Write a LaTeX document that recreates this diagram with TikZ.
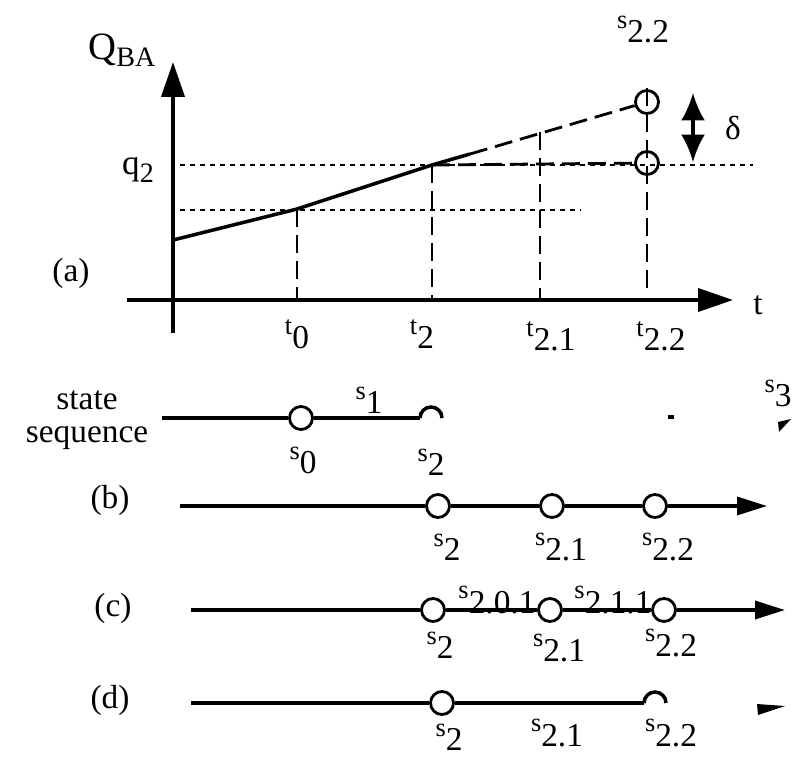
\documentclass[tikz,border=0pt]{standalone}
\usepackage{fontspec}
\setmainfont{Liberation Serif}
\usetikzlibrary{arrows.meta, positioning, calc}

% letter with a large, lowered index
\newcommand{\lbl}[2]{{\fontsize{15}{15}\selectfont #1}\raisebox{-8pt}{#2}}

\tikzset{
  axisline/.style={line width=2.2pt, -{Triangle[length=0.7cm,width=0.46cm]}},
  seqline/.style={line width=2pt},
  seqarrow/.style={line width=2pt, -{Triangle[length=0.6cm,width=0.36cm]}},
  dashline/.style={line width=1.6pt, dash pattern=on 0.36cm off 0.16cm},
  dotline/.style={line width=1.3pt, dash pattern=on 0.1cm off 0.1cm},
  statering/.style={circle, draw, line width=1.6pt, fill=white, inner sep=0pt, minimum size=0.46cm},
  openring/.style={circle, draw, line width=1.6pt, inner sep=0pt, minimum size=0.46cm},
  lab/.style={font=\fontsize{19}{19}\selectfont, inner sep=0pt},
}

\begin{document}
\begin{tikzpicture}[x=0.02cm, y=-0.02cm]
\useasboundingbox (0,0) rectangle (808,757);

% (a) Q_BA over time
\coordinate (yBot) at (173,333);
\coordinate (yTip) at (173,62);
\coordinate (xBeg) at (127,300);
\coordinate (xTip) at (733,300);
\draw[axisline] (yBot) -- (yTip);
\draw[axisline] (xBeg) -- (xTip);

\node[lab] (qba) at (122,50) {{\fontsize{22}{22}\selectfont Q}\raisebox{-4pt}{\fontsize{16}{16}\selectfont BA}};
\node[lab] (q2) at (138,170) {{\fontsize{20}{20}\selectfont q}\raisebox{-5pt}{\fontsize{16}{16}\selectfont 2}};
\node[lab] (la) at (71,273) {(a)};

\coordinate (p0) at (173,240);
\coordinate (pt0) at (297,209);
\coordinate (pt2) at (432,165);
\coordinate (pSolid) at (470,154);
\coordinate (pt21) at (540,132);
\coordinate (q2End) at (753,165);
\coordinate (q0End) at (580,210);
\coordinate (q0Beg) at (180,210);
\coordinate (q2Beg) at (180,165);
\node[openring] (ringUp) at (647,102) {};
\node[openring] (ringLo) at (647,163) {};

% levels
\draw[dotline] (q2Beg) -- (q2End);
\draw[dotline] (q0Beg) -- (q0End);

% rising line, then its extrapolation
\draw[line width=2pt] (p0) -- (pt0) -- (pt2) -- (pSolid);
\draw[dashline] (pSolid) -- (ringUp);
\draw[dashline] (pt2) -- (ringLo);

% time marks
\draw[dashline] (pt0) -- (pt0 |- xBeg);
\draw[dashline] (pt2) -- (pt2 |- xBeg);
\draw[dashline] (pt21) -- (pt21 |- xBeg);
\draw[dashline] ($(ringUp)+(0,-14)$) -- (647,290);

\node[lab] (t0) at (297,334) {\lbl{t}{0}};
\node[lab] (t2) at (422,334) {\lbl{t}{2}};
\node[lab] (t21) at (551,336) {\lbl{t}{2.1}};
\node[lab] (t22) at (661,336) {\lbl{t}{2.2}};
\node[lab] (tax) at (758,305) {t};
\node[lab] (s22up) at (643,30) {\lbl{s}{2.2}};

% delta
\coordinate (dTop) at (693,93);
\coordinate (dBot) at (693,162);
\draw[line width=1.8pt, {Latex[length=0.55cm,width=0.48cm]}-{Latex[length=0.55cm,width=0.48cm]}] (dTop) -- (dBot);
\node[lab] (delta) at (733,128) {δ};

% state sequence
\node[lab, align=center] (stseq) at (87,420) {state\\sequence};
\coordinate (sqA) at (162,418);
\node[statering] (sq0) at (301,418) {};
\coordinate (sq2) at (431,418);
\draw[seqline] (sqA) -- (sq0) -- ([xshift=-0.22cm]sq2);
\draw[seqline] ([xshift=-0.22cm]sq2) arc (180:0:0.22cm);
\draw[seqline] (668,417) -- (674,417);
\fill (778,422) -- (791,419) -- (779,432) -- cycle;
\node[lab] (s1) at (369,400) {\lbl{s}{1}};
\node[lab] (s0) at (303,460) {\lbl{s}{0}};
\node[lab] (sq2l) at (431,462) {\lbl{s}{2}};
\node[lab] (s3) at (778,393) {\lbl{s}{3}};

% (b)
\node[lab] (lb) at (110,500) {(b)};
\coordinate (bA) at (180,506);
\node[statering] (bR1) at (438,506) {};
\node[statering] (bR2) at (552,506) {};
\node[statering] (bR3) at (655,506) {};
\coordinate (bTip) at (767,506);
\draw[seqline] (bA) -- (bR1) -- (bR2) -- (bR3);
\draw[seqarrow] (bR3) -- (bTip);
\node[lab] (b2) at (447,547) {\lbl{s}{2}};
\node[lab] (b21) at (561,547) {\lbl{s}{2.1}};
\node[lab] (b22) at (668,547) {\lbl{s}{2.2}};

% (c)
\node[lab] (lc) at (113,608) {(c)};
\coordinate (cA) at (191,610);
\node[statering] (cR1) at (433,610) {};
\node[statering] (cR2) at (550,610) {};
\node[statering] (cR3) at (664,610) {};
\coordinate (cTip) at (785,610);
\draw[seqline] (cA) -- (cR1) -- (cR2) -- (cR3);
\draw[seqarrow] (cR3) -- (cTip);
\node[lab] (c201) at (497,600) {\lbl{s}{2.0.1}};
\node[lab] (c211) at (613,600) {\lbl{s}{2.1.1}};
\node[lab] (c2) at (440,645) {\lbl{s}{2}};
\node[lab] (c21) at (559,648) {\lbl{s}{2.1}};
\node[lab] (c22) at (671,643) {\lbl{s}{2.2}};

% (d)
\node[lab] (ld) at (110,700) {(d)};
\coordinate (dA) at (191,703);
\node[statering] (dR1) at (442,703) {};
\coordinate (dR3) at (655,703);
\draw[seqline] (dA) -- (dR1) -- ([xshift=-0.22cm]dR3);
\draw[seqline] ([xshift=-0.22cm]dR3) arc (180:0:0.22cm);
\fill (757,704) -- (785,706) -- (758,715) -- cycle;
\node[lab] (d2) at (449,737) {\lbl{s}{2}};
\node[lab] (d21) at (557,733) {\lbl{s}{2.1}};
\node[lab] (d22) at (671,733) {\lbl{s}{2.2}};
\end{tikzpicture}
\end{document}
